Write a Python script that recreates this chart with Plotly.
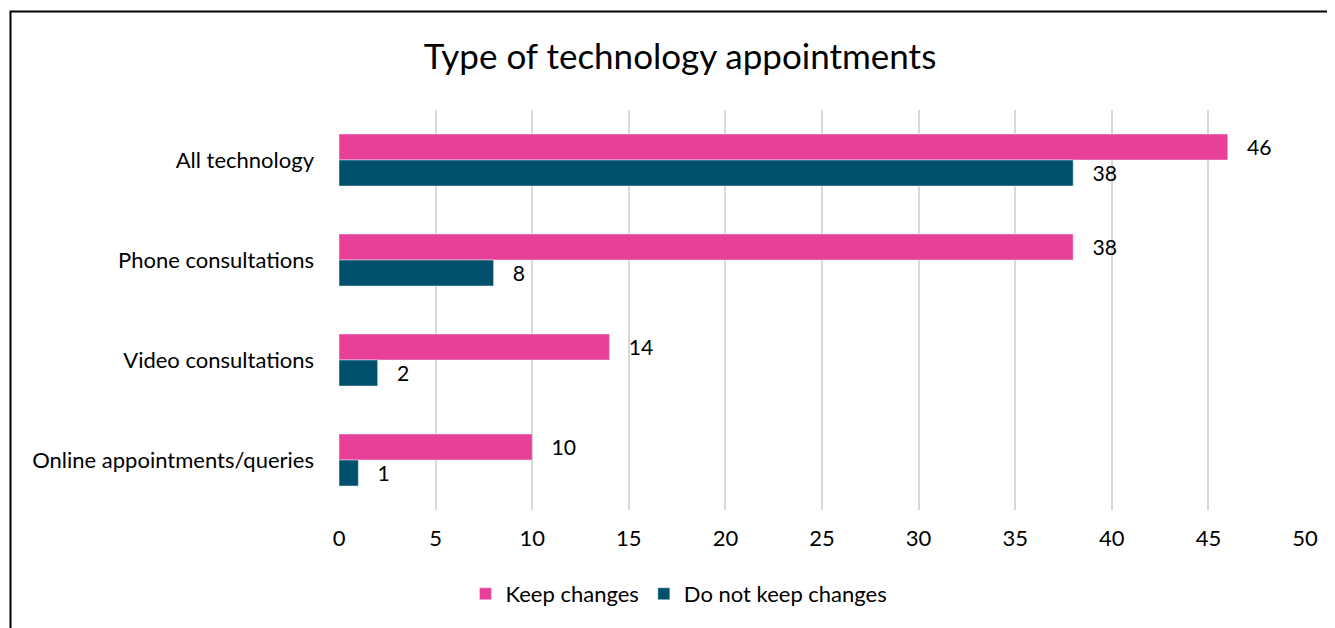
import plotly.graph_objects as go

# Data
categories = ["All technology", "Phone consultations", "Video consultations", "Online appointments/queries"]
keep_changes = [46, 38, 14, 10]
do_not_keep = [38, 8, 2, 1]

pink = "#E84098"
teal = "#00506B"
font_family = "Lato, 'Open Sans', sans-serif"
pad = "\u00a0\u00a0\u00a0"  # gap between bar end and value label

fig = go.Figure()
fig.add_trace(go.Bar(
    y=categories, x=keep_changes, orientation="h", name="Keep changes",
    marker=dict(color=pink), texttemplate=pad + "%{x}", textposition="outside",
    textfont=dict(size=22, color="#000"), cliponaxis=False,
))
fig.add_trace(go.Bar(
    y=categories, x=do_not_keep, orientation="h", name="Do not keep changes",
    marker=dict(color=teal), texttemplate=pad + "%{x}", textposition="outside",
    textfont=dict(size=22, color="#000"), cliponaxis=False,
))

# page body adds an 8px margin, so the figure is 8px smaller and shifted
W, H = 1327, 620
fig.update_layout(
    width=W, height=H,
    margin=dict(l=331, r=30, t=102, b=118),
    paper_bgcolor="white", plot_bgcolor="white",
    font=dict(family=font_family, color="#000"),
    barmode="group", bargap=0.48, bargroupgap=0,
    title=dict(text="Type of technology appointments", x=672 / W, xref="container",
               y=1 - 49 / H, yanchor="middle",
               font=dict(size=35, color="#000")),
    xaxis=dict(range=[0, 50], dtick=5, showgrid=True, gridcolor="#D9D9D9", gridwidth=1.5,
               zeroline=False, showline=False, ticks="", tickfont=dict(size=22),
               ticklabelstandoff=13),
    yaxis=dict(autorange="reversed", showgrid=False, showline=False, ticks="",
               tickfont=dict(size=22), ticklabelstandoff=24),
    legend=dict(orientation="h", xref="container", x=671 / W, xanchor="center",
                yref="container", y=1 - 586 / H, yanchor="middle",
                font=dict(size=22), itemwidth=30, traceorder="normal"),
    shapes=[dict(type="rect", xref="paper", yref="paper",
                 x0=(10.5 - 339) / 966, x1=2, y0=-1, y1=(510 - 11.5) / 400,
                 line=dict(color="#000", width=2), layer="above")],
)

fig.write_html("out.html")
